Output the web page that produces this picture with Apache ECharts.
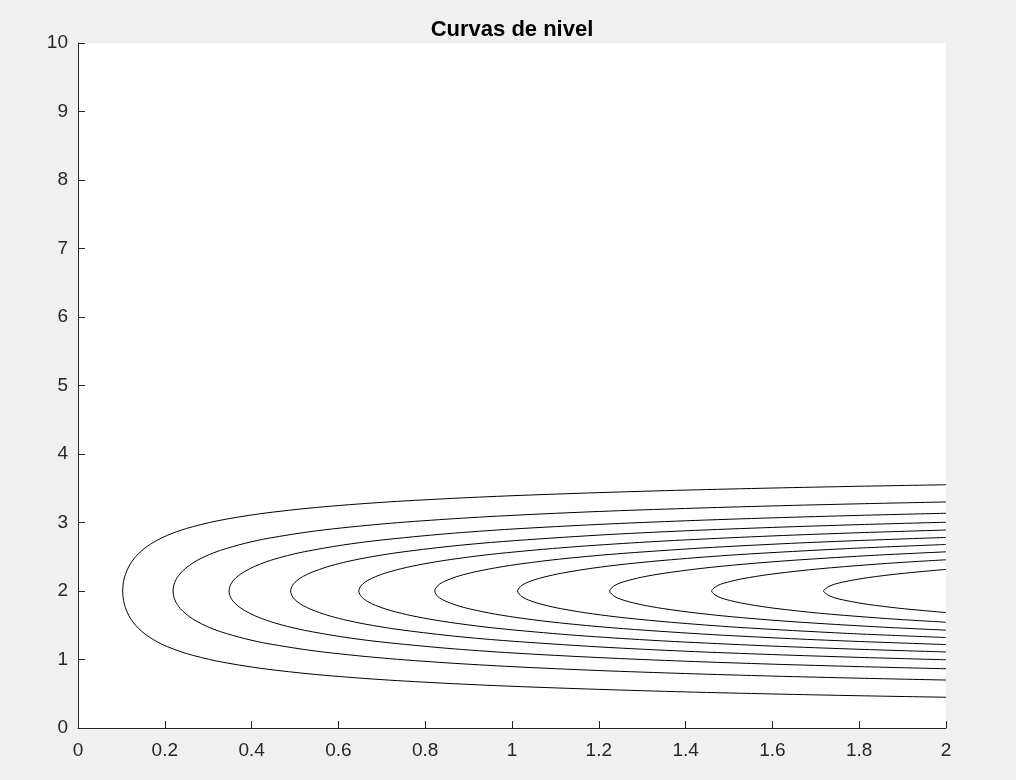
<!DOCTYPE html>
<html><head><meta charset="utf-8">
<script src="https://cdn.jsdelivr.net/npm/echarts@6/dist/echarts.min.js"></script>
<style>html,body{margin:0;padding:0;background:#f0f0f0;}#c{width:1016px;height:780px;}</style>
</head><body><div id="c"></div>
<script>
// Contour curves: x positions (from the vertex at y=2 outward to x=2),
// with the y of the upper and lower branch at each x.
const c1x  = [0.103, 0.104, 0.1061, 0.1092, 0.1133, 0.1205, 0.1288, 0.1391, 0.1545, 0.1803, 0.206, 0.25, 0.32, 0.42, 0.55, 0.7, 0.85, 1.0, 1.2, 1.4, 1.6, 1.8, 2.0];
const c1up = [2, 2.100, 2.172, 2.241, 2.308, 2.395, 2.470, 2.543, 2.629, 2.734, 2.813, 2.913, 3.023, 3.128, 3.220, 3.294, 3.348, 3.391, 3.436, 3.473, 3.503, 3.529, 3.551];
const c1lo = [2, 1.900, 1.828, 1.759, 1.692, 1.605, 1.530, 1.457, 1.371, 1.266, 1.187, 1.087, 0.977, 0.872, 0.780, 0.706, 0.652, 0.609, 0.564, 0.527, 0.497, 0.471, 0.449];

const c2x  = [0.219, 0.2212, 0.2256, 0.2321, 0.2409, 0.2562, 0.2738, 0.2957, 0.3285, 0.3833, 0.438, 0.55, 0.7, 0.85, 1.0, 1.2, 1.4, 1.6, 1.8, 2.0];
const c2up = [2, 2.094, 2.163, 2.228, 2.291, 2.373, 2.444, 2.513, 2.594, 2.694, 2.769, 2.879, 2.978, 3.049, 3.104, 3.161, 3.205, 3.242, 3.273, 3.300];
const c2lo = [2, 1.906, 1.837, 1.772, 1.709, 1.627, 1.556, 1.487, 1.406, 1.306, 1.231, 1.121, 1.022, 0.951, 0.896, 0.839, 0.795, 0.758, 0.727, 0.700];

const c3x  = [0.348, 0.3515, 0.3584, 0.3689, 0.3828, 0.4072, 0.435, 0.4698, 0.522, 0.609, 0.696, 0.85, 1.0, 1.2, 1.4, 1.6, 1.8, 2.0];
const c3up = [2, 2.091, 2.157, 2.220, 2.281, 2.360, 2.429, 2.496, 2.574, 2.670, 2.742, 2.836, 2.904, 2.972, 3.025, 3.068, 3.104, 3.135];
const c3lo = [2, 1.909, 1.843, 1.780, 1.719, 1.640, 1.571, 1.504, 1.426, 1.330, 1.258, 1.164, 1.096, 1.028, 0.975, 0.932, 0.896, 0.865];

const c4x  = [0.49, 0.4949, 0.5047, 0.5194, 0.539, 0.5733, 0.6125, 0.6615, 0.735, 0.8575, 0.98, 1.2, 1.4, 1.6, 1.8, 2.0];
const c4up = [2, 2.089, 2.153, 2.215, 2.274, 2.351, 2.418, 2.483, 2.559, 2.653, 2.723, 2.816, 2.879, 2.928, 2.969, 3.004];
const c4lo = [2, 1.911, 1.847, 1.785, 1.726, 1.649, 1.582, 1.517, 1.441, 1.347, 1.277, 1.184, 1.121, 1.072, 1.031, 0.996];

const c5x  = [0.647, 0.6535, 0.6664, 0.6858, 0.7117, 0.757, 0.8088, 0.8735, 0.9705, 1.1323, 1.294, 1.4, 1.6, 1.8, 2.0];
const c5up = [2, 2.087, 2.150, 2.210, 2.269, 2.344, 2.409, 2.473, 2.548, 2.640, 2.709, 2.746, 2.804, 2.851, 2.890];
const c5lo = [2, 1.913, 1.850, 1.790, 1.731, 1.656, 1.591, 1.527, 1.452, 1.360, 1.291, 1.254, 1.196, 1.149, 1.110];

const c6x  = [0.822, 0.8302, 0.8467, 0.8713, 0.9042, 0.9617, 1.0275, 1.1097, 1.233, 1.4385, 1.644, 1.8, 2.0];
const c6up = [2, 2.086, 2.147, 2.207, 2.264, 2.338, 2.402, 2.465, 2.538, 2.628, 2.696, 2.737, 2.782];
const c6lo = [2, 1.914, 1.853, 1.793, 1.736, 1.662, 1.598, 1.535, 1.462, 1.372, 1.304, 1.263, 1.218];

const c7x  = [1.013, 1.0231, 1.0434, 1.0738, 1.1143, 1.1852, 1.2663, 1.3676, 1.5195, 1.7728, 2.0];
const c7up = [2, 2.084, 2.145, 2.203, 2.260, 2.333, 2.396, 2.457, 2.530, 2.619, 2.679];
const c7lo = [2, 1.916, 1.855, 1.797, 1.740, 1.667, 1.604, 1.543, 1.470, 1.381, 1.321];

const c8x  = [1.225, 1.2373, 1.2618, 1.2985, 1.3475, 1.4333, 1.5313, 1.6538, 1.8375, 2.0];
const c8up = [2, 2.083, 2.143, 2.201, 2.256, 2.328, 2.390, 2.451, 2.522, 2.572];
const c8lo = [2, 1.917, 1.857, 1.799, 1.744, 1.672, 1.610, 1.549, 1.478, 1.428];

const c9x  = [1.46, 1.4746, 1.5038, 1.5476, 1.606, 1.7082, 1.825, 1.9, 2.0];
const c9up = [2, 2.082, 2.141, 2.198, 2.253, 2.324, 2.385, 2.418, 2.456];
const c9lo = [2, 1.918, 1.859, 1.802, 1.747, 1.676, 1.615, 1.582, 1.544];

const c10x  = [1.718, 1.7352, 1.7695, 1.8211, 1.8898, 1.95, 2.0];
const c10up = [2, 2.081, 2.139, 2.196, 2.250, 2.287, 2.315];
const c10lo = [2, 1.919, 1.861, 1.804, 1.750, 1.713, 1.685];

const xTickLabels = ['0', '0.2', '0.4', '0.6', '0.8', '1', '1.2', '1.4', '1.6', '1.8', '2'];
const yTickLabels = ['0', '1', '2', '3', '4', '5', '6', '7', '8', '9', '10'];
const titleText = 'Curvas de nivel';

const curves = [
  [c1x, c1up, c1lo], [c2x, c2up, c2lo], [c3x, c3up, c3lo], [c4x, c4up, c4lo], [c5x, c5up, c5lo],
  [c6x, c6up, c6lo], [c7x, c7up, c7lo], [c8x, c8up, c8lo], [c9x, c9up, c9lo], [c10x, c10up, c10lo]
];

function curveData(xs, up, lo) {
  const pts = [];
  for (let i = xs.length - 1; i >= 0; i--) pts.push([xs[i], lo[i]]);
  for (let i = 1; i < xs.length; i++) pts.push([xs[i], up[i]]);
  return pts;
}

const FONT = '"Liberation Sans", Arial, Helvetica, sans-serif';
const AX = '#262626';

const chart = echarts.init(document.getElementById('c'), null, {renderer: 'canvas'});
chart.setOption({
  animation: false,
  backgroundColor: '#f0f0f0',
  title: {
    text: titleText, left: 507, top: 14, textAlign: 'center',
    textStyle: {fontFamily: FONT, fontSize: 22, fontWeight: 'bold', color: '#000'}
  },
  grid: {left: 78, right: 70, top: 43, bottom: 52, show: true, backgroundColor: '#ffffff', borderWidth: 0},
  xAxis: {
    type: 'value', min: 0, max: 2, interval: 0.2,
    axisLine: {show: true, onZero: false, lineStyle: {color: AX, width: 1}},
    axisTick: {show: true, inside: true, length: 7, lineStyle: {color: AX, width: 1}},
    splitLine: {show: false},
    axisLabel: {
      color: AX, fontFamily: FONT, fontSize: 19, margin: 13,
      formatter: (v) => xTickLabels[Math.round(v / 0.2)]
    }
  },
  yAxis: {
    type: 'value', min: 0, max: 10, interval: 1,
    axisLine: {show: true, onZero: false, lineStyle: {color: AX, width: 1}},
    axisTick: {show: true, inside: true, length: 7, lineStyle: {color: AX, width: 1}},
    splitLine: {show: false},
    axisLabel: {
      color: AX, fontFamily: FONT, fontSize: 19, margin: 10,
      formatter: (v) => yTickLabels[Math.round(v)]
    }
  },
  series: curves.map(([xs, up, lo]) => ({
    type: 'line', data: curveData(xs, up, lo), showSymbol: false, symbol: 'none',
    smooth: 0.3, clip: true, silent: true,
    lineStyle: {color: '#000', width: 1}
  }))
});
</script></body></html>
